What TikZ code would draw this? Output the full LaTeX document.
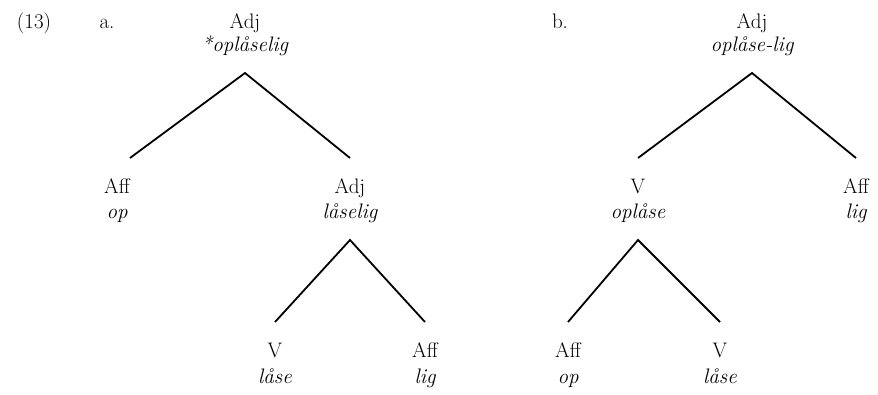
\documentclass[tikz,border=0pt]{standalone}
\usepackage{fontspec}
\usetikzlibrary{positioning}
\tikzset{
  treefont/.style={font=\fontsize{21}{25}\selectfont},
  cat/.style={treefont, inner sep=0pt, text height=0.7em, text depth=0.25em,
              outer ysep=28pt, anchor=base},
  word/.style={font=\fontsize{21}{25}\selectfont\itshape, inner sep=0pt,
               text height=0.7em, text depth=0.25em, outer ysep=19.5pt, anchor=base},
  branch/.style={line width=1.8pt},
}
\begin{document}
\begin{tikzpicture}[x=1pt, y=-1pt]
\useasboundingbox (0,0) rectangle (878,394);

% Example number and labels
\node[cat] (num) at (34,28) {(13)};
\node[cat] (la) at (107,28) {a.};
\node[cat] (lb) at (560,28) {b.};

% Tree a
\node[cat]  (a-root)   at (245,28)  {Adj};
\node[word] (a-root-w) at (245,51)  {*oplåselig};
\node[cat]  (a-aff)    at (117,193) {Aff};
\node[word] (a-aff-w)  at (117,218) {op};
\node[cat]  (a-adj)    at (350,193) {Adj};
\node[word] (a-adj-w)  at (350,218) {låselig};
\node[cat]  (a-v)      at (275,357) {V};
\node[word] (a-v-w)    at (275,383) {låse};
\node[cat]  (a-lig)    at (425,357) {Aff};
\node[word] (a-lig-w)  at (425,383) {lig};

\draw[branch] (a-aff.north east) -- (a-root-w.south) -- (a-adj.north);
\draw[branch] (a-v.north) -- (a-adj-w.south) -- (a-lig.north);

% Tree b
\node[cat]  (b-root)   at (752,28)  {Adj};
\node[word] (b-root-w) at (752,51)  {oplåse-lig};
\node[cat]  (b-v)      at (638,193) {V};
\node[word] (b-v-w)    at (638,218) {oplåse};
\node[cat]  (b-lig)    at (856,193) {Aff};
\node[word] (b-lig-w)  at (856,218) {lig};
\node[cat]  (b-op)     at (568,357) {Aff};
\node[word] (b-op-w)   at (568,383) {op};
\node[cat]  (b-lase)   at (720,357) {V};
\node[word] (b-lase-w) at (720,383) {låse};

\draw[branch] (b-v.north) -- (b-root-w.south) -- (b-lig.north);
\draw[branch] (b-op.north) -- (b-v-w.south) -- (b-lase.north);

\end{tikzpicture}
\end{document}
